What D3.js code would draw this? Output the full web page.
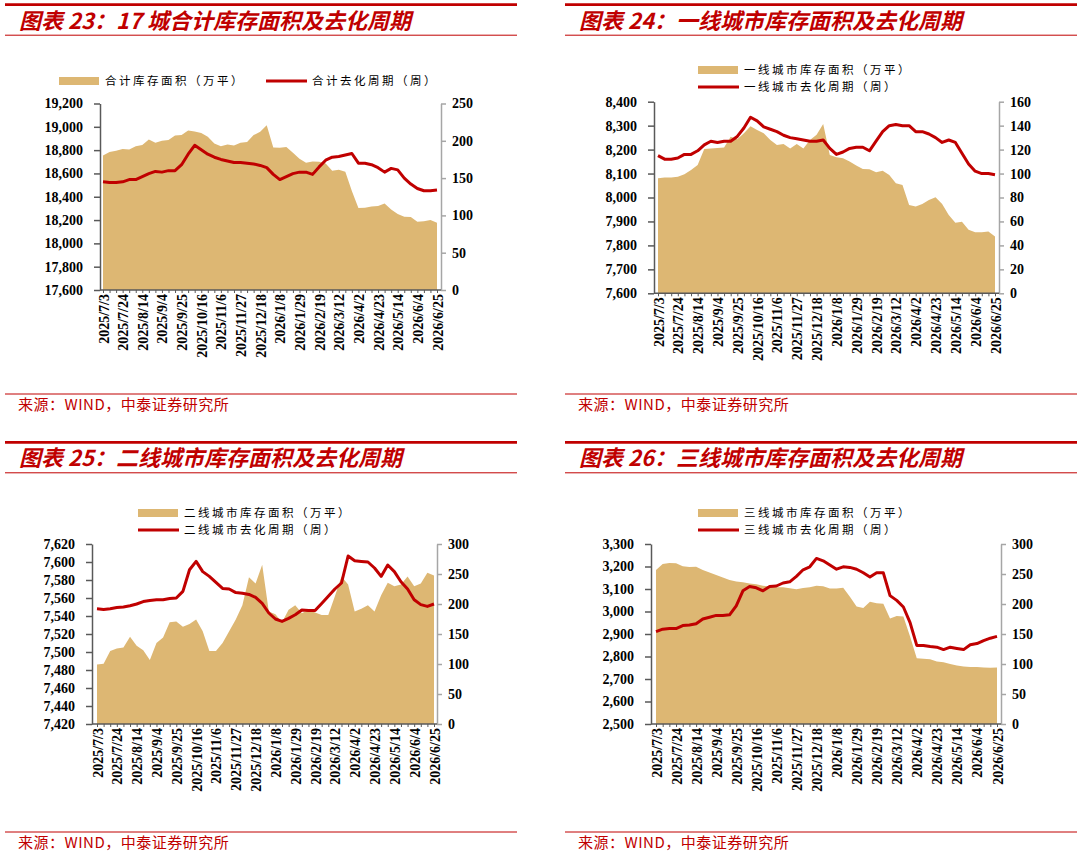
<!DOCTYPE html>
<html>
<head>
<meta charset="utf-8">
<script src="https://cdn.jsdelivr.net/npm/d3@7/dist/d3.min.js"></script>
<style>
    body { margin: 0; background: #fff; }
    svg { display: block; }
    .tick text { font-family: "Liberation Serif", "Times New Roman", serif; font-weight: bold; fill: #000; }
</style>
</head>
<body>
<svg id="chart" width="1080" height="853"></svg>
<script>
// weekly dates (x categories)
const dates = [
    "2025/7/3", "2025/7/10", "2025/7/17", "2025/7/24", "2025/7/31", "2025/8/7", "2025/8/14", "2025/8/21", "2025/8/28",
    "2025/9/4", "2025/9/11", "2025/9/18", "2025/9/25", "2025/10/2", "2025/10/9", "2025/10/16", "2025/10/23", "2025/10/30",
    "2025/11/6", "2025/11/13", "2025/11/20", "2025/11/27", "2025/12/4", "2025/12/11", "2025/12/18", "2025/12/25",
    "2026/1/1", "2026/1/8", "2026/1/15", "2026/1/22", "2026/1/29", "2026/2/5", "2026/2/12", "2026/2/19", "2026/2/26",
    "2026/3/5", "2026/3/12", "2026/3/19", "2026/3/26", "2026/4/2", "2026/4/9", "2026/4/16", "2026/4/23", "2026/4/30",
    "2026/5/7", "2026/5/14", "2026/5/21", "2026/5/28", "2026/6/4", "2026/6/11", "2026/6/18", "2026/6/25"
];

// 图表23: 17城合计
const totalStock = [
    18754, 18783, 18794, 18809, 18806, 18834, 18843, 18891, 18863, 18880, 18886, 18926, 18929,
    18969, 18960, 18946, 18914, 18857, 18834, 18849, 18840, 18863, 18869, 18929, 18957, 19014,
    18823, 18820, 18826, 18777, 18726, 18691, 18703, 18700, 18686, 18623, 18631, 18614, 18449,
    18303, 18306, 18317, 18320, 18343, 18291, 18251, 18229, 18226, 18186, 18189, 18200, 18177
];
const totalCycle = [
    145, 144, 144, 145, 148, 148, 152, 156, 159, 158, 160, 160, 168,
    182, 194, 188, 182, 178, 175, 173, 171, 171, 170, 169, 167, 164,
    155, 148, 152, 156, 158, 158, 155, 165, 174, 178, 179, 181, 183,
    170, 170, 168, 164, 158, 163, 161, 150, 142, 136, 133, 133, 134
];

// 图表24: 一线城市
const tier1Stock = [
    8080, 8084, 8083, 8087, 8097, 8115, 8136, 8203, 8205, 8207, 8209, 8254, 8243,
    8268, 8298, 8282, 8268, 8240, 8219, 8223, 8205, 8223, 8205, 8240, 8262, 8307,
    8177, 8168, 8164, 8150, 8134, 8119, 8118, 8105, 8112, 8094, 8059, 8052, 7969,
    7962, 7973, 7990, 8001, 7973, 7927, 7895, 7899, 7865, 7855, 7855, 7858, 7837
];
const tier1Cycle = [
    115, 112, 112, 113, 116, 116, 119, 124, 127, 126, 127, 127, 131,
    138, 147, 144, 139, 137, 135, 132, 130, 129, 128, 127, 127, 128,
    121, 116, 118, 121, 122, 122, 119, 127, 135, 140, 141, 140, 140,
    135, 135, 133, 130, 126, 128, 126, 117, 108, 102, 100, 100, 99
];

// 图表25: 二线城市
const tier2Stock = [
    7486, 7487, 7501, 7504, 7505, 7517, 7507, 7502, 7491, 7510, 7516, 7533, 7534,
    7528, 7531, 7536, 7523, 7501, 7501, 7510, 7523, 7536, 7552, 7583, 7576, 7597,
    7545, 7542, 7533, 7547, 7552, 7543, 7547, 7544, 7541, 7541, 7562, 7584, 7575,
    7545, 7548, 7552, 7545, 7563, 7577, 7573, 7575, 7584, 7573, 7576, 7588, 7585
];
const tier2Cycle = [
    192, 191, 192, 194, 195, 197, 200, 204, 206, 207, 207, 209, 210,
    221, 257, 271, 254, 246, 236, 226, 225, 219, 218, 216, 211, 201,
    185, 175, 171, 176, 182, 190, 189, 189, 201, 213, 225, 235, 280,
    272, 271, 270, 260, 246, 265, 254, 237, 225, 207, 199, 196, 200
];

// 图表26: 三线城市
const tier3Stock = [
    3185, 3211, 3216, 3214, 3201, 3198, 3199, 3185, 3173, 3162, 3151, 3140, 3133,
    3130, 3125, 3121, 3114, 3111, 3108, 3108, 3103, 3099, 3105, 3108, 3115, 3112,
    3102, 3102, 3106, 3066, 3022, 3016, 3043, 3037, 3034, 2969, 2980, 2978, 2889,
    2792, 2790, 2788, 2778, 2775, 2767, 2760, 2756, 2753, 2753, 2751, 2750, 2751
];
const tier3Cycle = [
    154, 158, 159, 159, 164, 165, 167, 175, 178, 181, 181, 182, 197,
    222, 229, 227, 222, 229, 230, 235, 237, 246, 257, 262, 276, 272,
    265, 258, 262, 261, 258, 252, 245, 252, 252, 214, 206, 195, 169,
    131, 131, 129, 128, 124, 128, 126, 124, 132, 134, 139, 143, 146
];

const RED = "#C00000";
const AREA = "#DDB773";
const CJK = '"Noto Sans CJK SC", sans-serif';

const svg = d3.select("#chart");

// title bar + source line for one panel
function drawFrame(p) {
    const g = svg.append("g");
    g.append("line").attr("x1", p.fx0).attr("x2", p.fx1).attr("y1", p.top).attr("y2", p.top)
        .attr("stroke", RED).attr("stroke-width", 2.8);
    g.append("line").attr("x1", p.fx0).attr("x2", p.fx1).attr("y1", p.top + 30.5).attr("y2", p.top + 30.5)
        .attr("stroke", RED).attr("stroke-width", 1);
    g.append("text").attr("x", p.fx0 + 14).attr("y", p.top + 24)
        .attr("font-family", CJK).attr("font-size", 22).attr("font-weight", "bold")
        .attr("font-style", "italic").attr("fill", RED).text(p.title);
    g.append("line").attr("x1", p.fx0).attr("x2", p.fx1).attr("y1", p.srcY).attr("y2", p.srcY)
        .attr("stroke", RED).attr("stroke-width", 1);
    g.append("text").attr("x", p.fx0 + 13).attr("y", p.srcY + 16)
        .attr("font-family", CJK).attr("font-size", 15).attr("fill", RED)
        .attr("letter-spacing", "0.5px")
        .text("来源：WIND，中泰证券研究所");
}

function drawLegend(p) {
    const g = svg.append("g").attr("font-family", CJK).attr("font-size", 11.5)
        .attr("letter-spacing", "2.5px").attr("fill", "#000");
    p.legendRows.forEach(r => {
        if (r.kind === "area") {
            g.append("rect").attr("x", r.x).attr("y", r.y - 4).attr("width", 40).attr("height", 8).attr("fill", AREA);
        } else {
            g.append("line").attr("x1", r.x).attr("x2", r.x + 41).attr("y1", r.y).attr("y2", r.y)
                .attr("stroke", RED).attr("stroke-width", 3);
        }
        g.append("text").attr("x", r.x + 46).attr("y", r.y).attr("dy", "0.36em").text(r.label);
    });
}

function drawPanel(p) {
    drawFrame(p);
    drawLegend(p);

    const x = d3.scalePoint().domain(dates).range([p.ax0, p.ax1]);
    const yL = d3.scaleLinear().domain(p.leftDomain).range([p.y1, p.y0]);
    const yR = d3.scaleLinear().domain(p.rightDomain).range([p.y1, p.y0]);
    const g = svg.append("g");

    // stock area (left axis)
    const area = d3.area()
        .x((d, i) => x(dates[i]))
        .y0(yL(p.leftDomain[0]))
        .y1(d => yL(d));
    g.append("path").datum(p.stock).attr("d", area).attr("fill", AREA);

    // left axis
    const left = g.append("g").attr("transform", `translate(${p.x0},0)`)
        .call(d3.axisLeft(yL)
            .tickValues(d3.range(p.leftDomain[0], p.leftDomain[1] + p.leftStep / 2, p.leftStep))
            .tickFormat(d3.format(","))
            .tickSize(6).tickSizeOuter(0).tickPadding(11));
    left.select(".domain").attr("stroke", "#595959").attr("stroke-width", 1.5);
    left.selectAll(".tick line").attr("stroke", "#595959").attr("stroke-width", 1.5);
    left.selectAll(".tick text").attr("font-size", 14);

    // right axis
    const right = g.append("g").attr("transform", `translate(${p.x1},0)`)
        .call(d3.axisRight(yR)
            .tickValues(d3.range(p.rightDomain[0], p.rightDomain[1] + p.rightStep / 2, p.rightStep))
            .tickSize(5).tickSizeOuter(0).tickPadding(6));
    right.select(".domain").attr("stroke", "#A6A6A6").attr("stroke-width", 1.5);
    right.selectAll(".tick line").attr("stroke", "#A6A6A6").attr("stroke-width", 1.5);
    right.selectAll(".tick text").attr("font-size", 14);

    // bottom axis: a tick per week, a label every 3 weeks
    const bottom = g.append("g").attr("transform", `translate(0,${p.y1})`)
        .call(d3.axisBottom(x)
            .tickFormat((d, i) => i % 3 === 0 ? d : "")
            .tickSize(3).tickSizeOuter(0));
    bottom.select(".domain").attr("d", `M${p.x0},0H${p.x1}`).attr("stroke", "#595959").attr("stroke-width", 1.5);
    bottom.selectAll(".tick line").attr("stroke", "#595959");
    bottom.selectAll(".tick text")
        .attr("font-size", 14)
        .attr("transform", "rotate(-90)")
        .attr("text-anchor", "end")
        .attr("x", -4).attr("y", 0).attr("dy", "0.36em");

    // de-stocking cycle (right axis)
    const line = d3.line()
        .x((d, i) => x(dates[i]))
        .y(d => yR(d));
    g.append("path").datum(p.cycle).attr("d", line)
        .attr("fill", "none").attr("stroke", RED).attr("stroke-width", 3)
        .attr("stroke-linejoin", "round");
}

drawPanel({
    title: "图表 23：17 城合计库存面积及去化周期",
    fx0: 5, fx1: 517, top: 4.7, srcY: 394,
    x0: 100, x1: 441, ax0: 103, ax1: 437, y0: 103.5, y1: 290,
    leftDomain: [17600, 19200], leftStep: 200, rightDomain: [0, 250], rightStep: 50,
    stock: totalStock, cycle: totalCycle,
    legendRows: [
        { kind: "area", x: 59, y: 81, label: "合计库存面积（万平）" },
        { kind: "line", x: 266, y: 81, label: "合计去化周期（周）" }
    ]
});

drawPanel({
    title: "图表 24：一线城市库存面积及去化周期",
    fx0: 565, fx1: 1077, top: 4.7, srcY: 394,
    x0: 654, x1: 999, ax0: 658, ax1: 995, y0: 101.7, y1: 293.3,
    leftDomain: [7600, 8400], leftStep: 100, rightDomain: [0, 160], rightStep: 20,
    stock: tier1Stock, cycle: tier1Cycle,
    legendRows: [
        { kind: "area", x: 698, y: 70, label: "一线城市库存面积（万平）" },
        { kind: "line", x: 698, y: 87, label: "一线城市去化周期（周）" }
    ]
});

drawPanel({
    title: "图表 25：二线城市库存面积及去化周期",
    fx0: 5, fx1: 517, top: 442.3, srcY: 832,
    x0: 92, x1: 437, ax0: 97, ax1: 434, y0: 544, y1: 724,
    leftDomain: [7420, 7620], leftStep: 20, rightDomain: [0, 300], rightStep: 50,
    stock: tier2Stock, cycle: tier2Cycle,
    legendRows: [
        { kind: "area", x: 138, y: 513, label: "二线城市库存面积（万平）" },
        { kind: "line", x: 138, y: 530, label: "二线城市去化周期（周）" }
    ]
});

drawPanel({
    title: "图表 26：三线城市库存面积及去化周期",
    fx0: 565, fx1: 1077, top: 442.3, srcY: 832,
    x0: 651, x1: 1001, ax0: 656, ax1: 997, y0: 544, y1: 724,
    leftDomain: [2500, 3300], leftStep: 100, rightDomain: [0, 300], rightStep: 50,
    stock: tier3Stock, cycle: tier3Cycle,
    legendRows: [
        { kind: "area", x: 698, y: 513, label: "三线城市库存面积（万平）" },
        { kind: "line", x: 698, y: 530, label: "三线城市去化周期（周）" }
    ]
});
</script>
</body>
</html>
